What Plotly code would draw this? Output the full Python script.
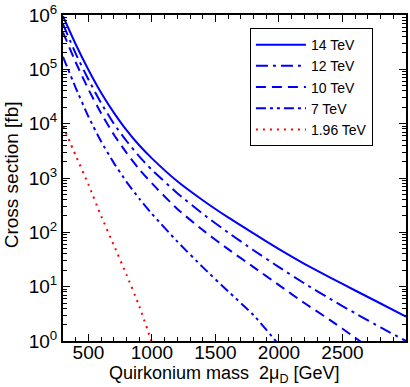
import plotly.graph_objects as go

# quirkonium mass 2*mu_D [GeV]
mass = [300, 400, 500, 600, 700, 800, 900, 1000, 1200, 1400, 1600, 1800,
        2000, 2200, 2400, 2600, 2800, 3000]

# cross sections [fb]
xs_14 = [9.5e5, 2.9e5, 9.8e4, 3.7e4, 1.6e4, 7.6e3, 4.0e3, 2.3e3, 870, 390, 188, 95.5,
         49, 26.3, 14.8, 8.5, 4.9, 2.8]
xs_12 = [6.8e5, 1.95e5, 6.5e4, 2.4e4, 1.0e4, 4.8e3, 2.5e3, 1.41e3, 525, 219, 99, 46.8,
         22.9, 11.5, 6.0, 3.24, 1.78, 1.0]

mass_10 = [300, 400, 500, 600, 700, 800, 900, 1000, 1200, 1400, 1600, 1800,
           2000, 2200, 2400, 2600, 2800]
xs_10 = [4.8e5, 1.35e5, 4.3e4, 1.55e4, 6.3e3, 2.9e3, 1.45e3, 794, 269, 110, 49, 22.9,
         10.7, 5.0, 2.45, 1.15, 0.52]

mass_7 = [300, 400, 500, 600, 700, 800, 900, 1000, 1200, 1400, 1600, 1800, 2000]
xs_7 = [1.7e5, 4.57e4, 1.35e4, 4.7e3, 1.9e3, 851, 417, 219, 67.6, 22.9, 8.2, 3.0, 0.85]

mass_tev = [300, 400, 500, 600, 700, 800, 900, 1000]
xs_tev = [9000, 2600, 760, 200, 58, 16.6, 4.4, 0.93]

y_ticks = [1, 10, 100, 1e3, 1e4, 1e5, 1e6]
y_ticktext = ["10<sup>%d</sup>" % i for i in range(7)]
y_minor = [m * 10 ** e for e in range(6) for m in range(2, 10)]

BLUE = "#0000ff"
RED = "#ff0000"

series = [
    ("14 TeV", mass, xs_14, BLUE, "solid"),
    ("12 TeV", mass, xs_12, BLUE, "12px,5px,3px,5px"),
    ("10 TeV", mass_10, xs_10, BLUE, "10px,6px"),
    ("7 TeV", mass_7, xs_7, BLUE, "10px,4px,3px,4px,3px,4px"),
    ("1.96 TeV", mass_tev, xs_tev, RED, "2px,5px"),
]

fig = go.Figure()
for name, x, y, color, dash in series:
    fig.add_trace(go.Scatter(
        x=x, y=y, name=name, mode="lines",
        line=dict(color=color, width=2, dash=dash, shape="spline", smoothing=0.5),
    ))

axis_common = dict(
    showline=True, linecolor="black", linewidth=2, mirror="ticks",
    ticks="inside", tickcolor="black", ticklen=7, tickwidth=1,
    showgrid=False, zeroline=False,
    tickfont=dict(size=19, color="black"),
)

fig.update_xaxes(
    range=[300, 3000], tickvals=[500, 1000, 1500, 2000, 2500],
    minor=dict(ticks="inside", ticklen=4, tickcolor="black", dtick=100, showgrid=False),
    ticklabelstandoff=-7,
    **axis_common,
)
fig.update_yaxes(
    type="log", range=[0, 6], tickvals=y_ticks, ticktext=y_ticktext,
    minor=dict(ticks="inside", ticklen=4, tickcolor="black", tickvals=y_minor, showgrid=False),
    **axis_common,
)

fig.update_layout(
    width=410, height=387,
    margin=dict(l=63, r=2, t=14, b=46),
    plot_bgcolor="white", paper_bgcolor="white",
    font=dict(family="Liberation Sans, Arial, sans-serif", color="black"),
    legend=dict(
        x=0.545, y=0.96, xanchor="left", yanchor="top",
        bordercolor="black", borderwidth=1, bgcolor="white",
        font=dict(size=14), tracegroupgap=0, itemwidth=50,
    ),
    annotations=[
        dict(text="Quirkonium mass  2μ<sub>D</sub> [GeV]", xref="paper", yref="paper",
             x=0.47, y=-0.104, xanchor="center", yanchor="middle", showarrow=False,
             font=dict(size=18)),
        dict(text="Cross section [fb]", xref="paper", yref="paper",
             x=-0.15, y=0.51, xanchor="center", yanchor="middle", showarrow=False,
             textangle=-90, font=dict(size=19)),
    ],
)

# drop the browser's default body margin so the figure sits at the window's corner
fig.write_html("out.html", config={"displayModeBar": False},
               post_script="document.body.style.margin='0';")
